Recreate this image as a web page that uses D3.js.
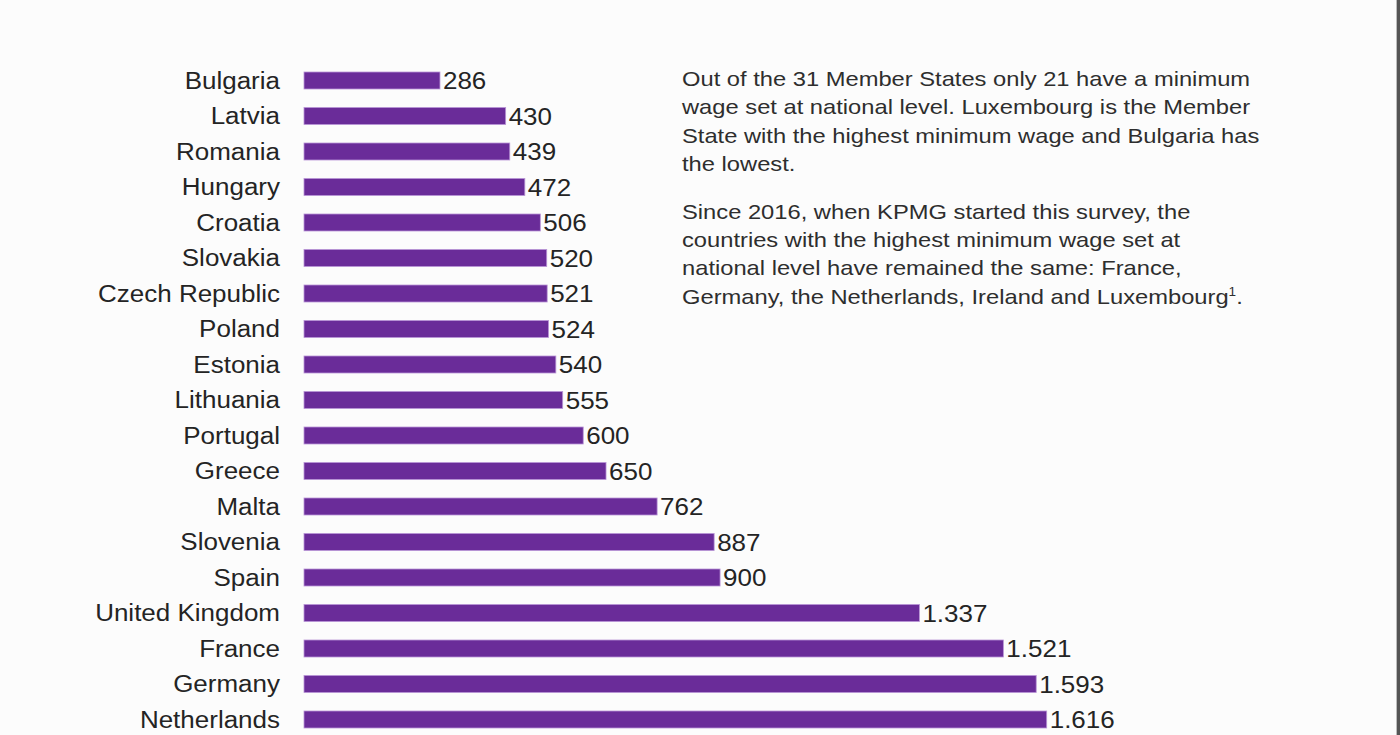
<!DOCTYPE html>
<html>
<head>
<meta charset="utf-8">
<script src="https://cdn.jsdelivr.net/npm/d3@7"></script>
<style>
  html, body { margin: 0; padding: 0; background: #fcfcfc; overflow: hidden; }
  svg { display: block; }
</style>
</head>
<body>
<svg width="1400" height="735"></svg>
<script>
// minimum wage per month (EUR)
const countries = ["Bulgaria", "Latvia", "Romania", "Hungary", "Croatia", "Slovakia",
    "Czech Republic", "Poland", "Estonia", "Lithuania", "Portugal", "Greece", "Malta",
    "Slovenia", "Spain", "United Kingdom", "France", "Germany", "Netherlands"];
const wages = [286, 430, 439, 472, 506, 520, 521, 524, 540, 555, 600, 650, 762,
    887, 900, 1337, 1521, 1593, 1616];

const paragraph1 = [
    "Out of the 31 Member States only 21 have a minimum",
    "wage set at national level. Luxembourg is the Member",
    "State with the highest minimum wage and Bulgaria has",
    "the lowest."
];
const paragraph2 = [
    "Since 2016, when KPMG started this survey, the",
    "countries with the highest minimum wage set at",
    "national level have remained the same: France,",
    "Germany, the Netherlands, Ireland and Luxembourg"
];

const svg = d3.select("svg");
const width = +svg.attr("width");
const height = +svg.attr("height");

const purple = "#6a2c99";
const textColor = "#242424";
const font = "'Liberation Sans', Arial, sans-serif";
const stretch = 1.13;     // the source type is set a little wide
const barH = 17;
const barInset = 5.5;

const x = d3.scaleLinear()
    .domain([0, d3.max(wages)])
    .range([309.5, 1046.7]);

const y = d3.scalePoint()
    .domain(countries)
    .range([80.5, 719.5]);

const euro = d3.formatLocale({decimal: ",", thousands: ".", grouping: [3], currency: ["", " €"]});
const fmt = euro.format(",d");

const rows = countries.map((c, i) => ({country: c, value: wages[i]}));

// bars
svg.append("g")
    .selectAll("rect")
    .data(rows)
    .join("rect")
    .attr("x", x(0) - barInset)
    .attr("y", d => y(d.country) - barH / 2)
    .attr("width", d => x(d.value) - x(0) + barInset)
    .attr("height", barH)
    .attr("fill", purple)
    .attr("stroke", "#b995d6")
    .attr("stroke-width", 0.8);

// country labels
svg.append("g")
    .selectAll("g")
    .data(rows)
    .join("g")
    .attr("transform", d => `translate(280,${y(d.country) + 8}) scale(${stretch},1)`)
    .append("text")
    .attr("text-anchor", "end")
    .attr("font-family", font)
    .attr("font-size", 23)
    .attr("fill", textColor)
    .text(d => d.country);

// value labels
svg.append("g")
    .selectAll("g")
    .data(rows)
    .join("g")
    .attr("transform", d => `translate(${x(d.value) + 3},${y(d.country) + 8.5}) scale(${stretch},1)`)
    .append("text")
    .attr("font-family", font)
    .attr("font-size", 23)
    .attr("fill", textColor)
    .text(d => fmt(d.value));

// commentary
const lineH = 28.4;
function drawParagraph(lines, top) {
    const g = svg.append("g")
        .attr("transform", `translate(682,${top}) scale(${stretch},1)`);
    const t = g.append("text")
        .attr("font-family", font)
        .attr("font-size", 21)
        .attr("fill", "#2e2e2e");
    lines.forEach((line, i) => {
        t.append("tspan")
            .attr("x", 0)
            .attr("y", i * lineH)
            .text(line);
    });
    return t;
}
drawParagraph(paragraph1, 86);
const p2 = drawParagraph(paragraph2, 218.5);
p2.append("tspan")
    .attr("font-size", 12)
    .attr("dy", -8)
    .text("1");
p2.append("tspan")
    .attr("dy", 8)
    .text(".");

// page edge on the right
svg.append("rect")
    .attr("x", width - 4)
    .attr("y", 0)
    .attr("width", 1)
    .attr("height", height)
    .attr("fill", "#bdbdbd");
svg.append("rect")
    .attr("x", width - 3)
    .attr("y", 0)
    .attr("width", 3)
    .attr("height", height)
    .attr("fill", "#555555");
</script>
</body>
</html>
